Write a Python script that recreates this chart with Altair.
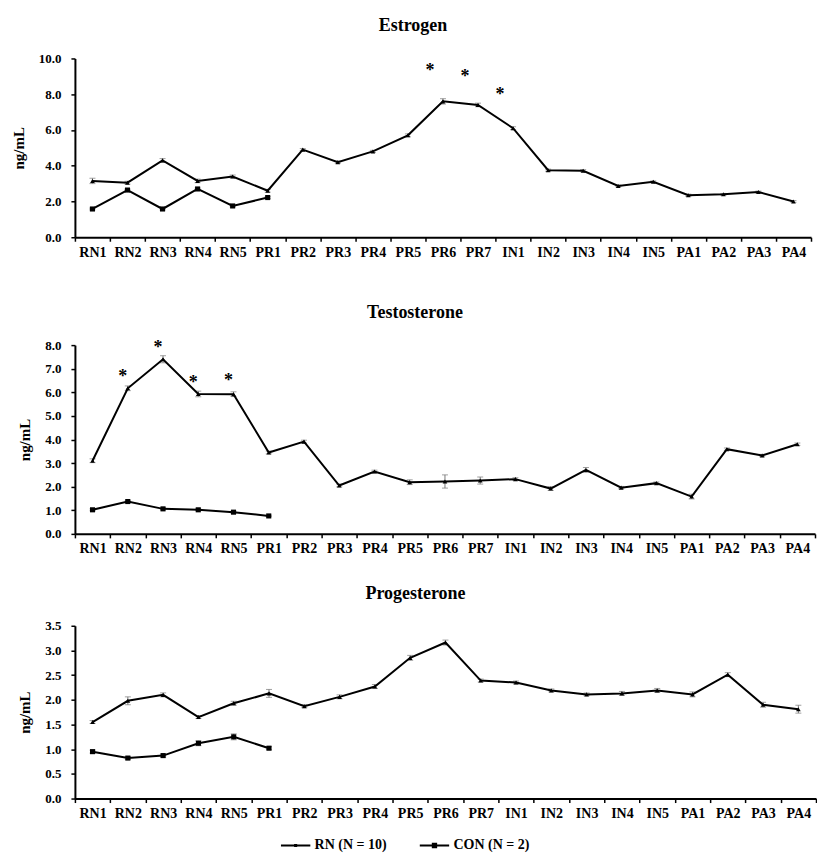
import altair as alt
import pandas as pd

periods = ["RN1", "RN2", "RN3", "RN4", "RN5", "PR1", "PR2", "PR3", "PR4", "PR5", "PR6",
           "PR7", "IN1", "IN2", "IN3", "IN4", "IN5", "PA1", "PA2", "PA3", "PA4"]
con_periods = ["RN1", "RN2", "RN3", "RN4", "RN5", "PR1"]
groups = ["RN (N = 10)", "CON (N = 2)"]

# Estrogen
estrogen_rn = [3.15, 3.05, 4.3, 3.15, 3.4, 2.6, 4.9, 4.2, 4.8, 5.7, 7.6, 7.4, 6.1,
               3.75, 3.72, 2.87, 3.1, 2.35, 2.4, 2.53, 2.0]
estrogen_rn_err = [0.15, 0.08, 0.1, 0.1, 0.08, 0.08, 0.06, 0.06, 0.06, 0.08, 0.15, 0.1,
                   0.08, 0.06, 0.06, 0.05, 0.05, 0.06, 0.05, 0.05, 0.05]
estrogen_con = [1.58, 2.64, 1.58, 2.7, 1.75, 2.22]
estrogen_con_err = [0.05, 0.05, 0.05, 0.05, 0.05, 0.05]
estrogen_star_periods = ["PR6", "PR7", "IN1"]
estrogen_star_y = [9.5, 9.2, 8.2]

# Testosterone
testosterone_rn = [3.1, 6.17, 7.4, 5.93, 5.92, 3.45, 3.91, 2.05, 2.64, 2.19, 2.22, 2.26,
                   2.32, 1.92, 2.71, 1.96, 2.15, 1.58, 3.59, 3.32, 3.8]
testosterone_rn_err = [0.08, 0.1, 0.15, 0.12, 0.1, 0.06, 0.06, 0.06, 0.06, 0.1, 0.28, 0.15,
                       0.06, 0.08, 0.1, 0.05, 0.05, 0.1, 0.05, 0.05, 0.05]
testosterone_con = [1.02, 1.37, 1.06, 1.02, 0.92, 0.76]
testosterone_con_err = [0.04, 0.05, 0.04, 0.04, 0.04, 0.03]
testosterone_star_periods = ["RN2", "RN3", "RN4", "RN5"]
testosterone_star_y = [6.83, 8.05, 6.55, 6.64]

# Progesterone
progesterone_rn = [1.55, 1.98, 2.1, 1.65, 1.93, 2.13, 1.87, 2.06, 2.27, 2.85, 3.16, 2.39,
                   2.35, 2.19, 2.11, 2.13, 2.19, 2.11, 2.51, 1.9, 1.81]
progesterone_rn_err = [0.03, 0.08, 0.04, 0.03, 0.04, 0.08, 0.03, 0.04, 0.04, 0.05, 0.05, 0.03,
                       0.03, 0.03, 0.03, 0.04, 0.04, 0.05, 0.04, 0.05, 0.08]
progesterone_con = [0.95, 0.82, 0.87, 1.12, 1.25, 1.02]
progesterone_con_err = [0.03, 0.03, 0.03, 0.05, 0.06, 0.03]

FONT = "Liberation Serif"
# legend glyphs: a short line with a dot in the middle (filled shapes only)
RN_PATH = "M-2.1,-0.15H2.1V0.15H-2.1ZM-0.22,-0.22H0.22V0.22H-0.22Z"
CON_PATH = "M-2.1,-0.15H2.1V0.15H-2.1ZM-0.38,-0.38H0.38V0.38H-0.38Z"


def make_df(rn, rn_err, con, con_err):
    rows = []
    for p, v, e in zip(periods, rn, rn_err):
        rows.append({"period": p, "group": groups[0], "value": v, "err": e})
    for p, v, e in zip(con_periods, con, con_err):
        rows.append({"period": p, "group": groups[1], "value": v, "err": e})
    return pd.DataFrame(rows)


def panel(title, rn, rn_err, con, con_err, ymax, ystep, width, height,
          star_periods=None, star_y=None, star_dx=0, legend=False, pad_bottom=False):
    df = make_df(rn, rn_err, con, con_err)
    nvals = int(round(ymax / ystep)) + 1
    yvals = [round(i * ystep, 2) for i in range(nvals)]
    x_axis = alt.Axis(title="." if pad_bottom else None, labelAngle=0, tickBand="extent",
                      titleOpacity=0, titleFontSize=15, titlePadding=0)
    x = alt.X("period:N", sort=periods,
              scale=alt.Scale(type="band", domain=periods, paddingInner=0, paddingOuter=0),
              axis=x_axis)
    y = alt.Y("value:Q", scale=alt.Scale(domain=[0, ymax], nice=False, zero=True),
              axis=alt.Axis(values=yvals, format=".1f", title="ng/mL"))
    base = alt.Chart(df)
    line = base.mark_line(color="black", strokeWidth=2).encode(x=x, y=y, detail="group:N")
    err = base.mark_errorbar(ticks={"size": 6}, color="#777", thickness=1).encode(
        x=x, y=y, yError="err:Q")
    rn_pts = base.transform_filter(alt.datum.group == groups[0]).mark_point(
        shape="triangle-up", filled=True, size=22, color="black", opacity=1).encode(x=x, y=y)
    con_pts = base.transform_filter(alt.datum.group == groups[1]).mark_square(
        size=26, color="black", opacity=1).encode(x=x, y=y)
    layers = [err, line, rn_pts, con_pts]
    if star_periods:
        sdf = pd.DataFrame({"period": star_periods, "value": star_y})
        stars = alt.Chart(sdf).mark_text(text="*", font=FONT, fontSize=18, fontWeight="bold",
                                         color="black", dx=star_dx, dy=4,
                                         baseline="middle").encode(x=x, y=y)
        layers.append(stars)
    if legend:
        ldf = pd.DataFrame({"period": ["RN1", "RN1"], "value": [0, 0], "group": groups})
        leg = alt.Chart(ldf).mark_point(filled=True, opacity=0, color="black").encode(
            x=x, y=y,
            shape=alt.Shape("group:N", sort=groups,
                            scale=alt.Scale(domain=groups, range=[RN_PATH, CON_PATH]),
                            legend=alt.Legend(title=None, orient="none", direction="horizontal",
                                              legendX=214, legendY=781, padding=0,
                                              symbolSize=196, symbolFillColor="black",
                                              symbolStrokeWidth=0,
                                              symbolOpacity=1, columnPadding=32,
                                              labelFont=FONT, labelFontSize=14,
                                              labelFontWeight="bold", labelColor="black",
                                              labelOffset=12)))
        layers.append(leg)
    return alt.layer(*layers).properties(
        width=width, height=height,
        title=alt.TitleParams(title, dx=-30))


p1 = panel("Estrogen", estrogen_rn, estrogen_rn_err, estrogen_con, estrogen_con_err,
           10.0, 2.0, 737, 179, estrogen_star_periods, estrogen_star_y, -13, pad_bottom=True)
p2 = panel("Testosterone", testosterone_rn, testosterone_rn_err, testosterone_con,
           testosterone_con_err, 8.0, 1.0, 741, 189, testosterone_star_periods,
           testosterone_star_y, -5)
p3 = panel("Progesterone", progesterone_rn, progesterone_rn_err, progesterone_con,
           progesterone_con_err, 3.5, 0.5, 742, 173, legend=True)

chart = alt.concat(p1, p2, p3, columns=1, spacing=29, align="none").properties(
    padding={"left": 3, "top": 9, "right": 0, "bottom": 0}
).configure_view(stroke=None).configure_axis(
    grid=False, domainColor="black", domainWidth=2, tickColor="black", tickWidth=1.5,
    tickSize=4, labelFont=FONT, labelFontSize=13, labelFontWeight="bold",
    labelColor="black", labelPadding=3, titleFont=FONT, titleFontSize=15,
    titleFontWeight="bold", titleColor="black"
).configure_axisX(labelFontSize=14, labelPadding=4).configure_axisY(
    labelPadding=10, titlePadding=12
).configure_title(
    font=FONT, fontSize=18, fontWeight="bold", color="black", anchor="middle", offset=17
)

chart.save("out.html", embed_options={"renderer": "svg", "actions": False})
